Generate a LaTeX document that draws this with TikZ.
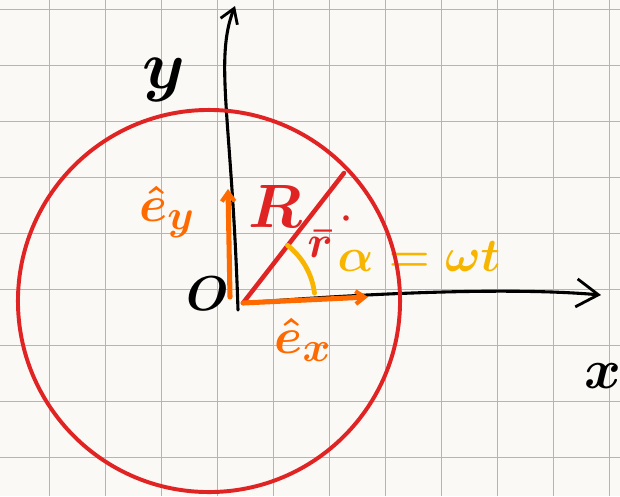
\documentclass[tikz,border=0pt]{standalone}
\usepackage{graphicx}
\usetikzlibrary{arrows.meta}

\definecolor{paper}{HTML}{FBF9F5}
\definecolor{gridgray}{HTML}{B5B5B5}
\definecolor{penred}{HTML}{E02424}
\definecolor{penorange}{HTML}{FF6A00}
\definecolor{penyellow}{HTML}{F7B500}

% handwritten-size math label
\newcommand{\penmath}[2]{\scalebox{#1}{$#2$}}

\tikzset{
    gridline/.style={draw=gridgray, line width=0.7pt},
    axis/.style={draw=black, line width=2.2pt, line cap=round},
    pen/.style={inner sep=0pt, font=\Huge\boldmath},
    unitvec/.style={draw=penorange, line width=3.6pt, line cap=round,
        -{Straight Barb[length=0.22cm, width=0.32cm, line width=3pt]}}
}

\begin{document}
\begin{tikzpicture}[x=0.025cm, y=-0.025cm]
        % Paper and grid
        \fill[paper] (0,0) rectangle (620,496);
        \useasboundingbox (0,0) rectangle (620,496);
        \foreach \x in {49.3,105.3,...,609.3} {
                \draw[gridline] (\x,0) -- (\x,496);
            }
        \foreach \y in {9.3,65.3,...,457.3} {
                \draw[gridline] (0,\y) -- (620,\y);
            }

        % Axes
        \coordinate (O) at (243,303);
        \coordinate (yfoot) at (238,310);
        \coordinate (ytip) at (235,6);
        \coordinate (xtip) at (601,295);
        \draw[axis, -{Straight Barb[length=0.55cm, width=0.7cm, line width=2pt]}]
            (O) .. controls (400,291) and (520,288) .. (xtip);
        \draw[axis, -{Straight Barb[length=0.35cm, width=0.45cm, line width=2pt]}]
            (yfoot) .. controls (232,120) and (214,60) .. (ytip);
        \node[pen] (ylab) at (164,80) {\penmath{1.95}{y}};
        \node[pen] (xlab) at (603,376) {\penmath{1.6}{x}};
        \node[pen] (olab) at (208,294) {\penmath{1.4}{O}};

        % Position vector
        \coordinate (P) at (344,173);
        \draw[penred, line width=3.2pt, line cap=round] (O) -- (P);
        \node[pen, text=penred] (rlab) at (275,206) {\penmath{1.75}{R}};
        \node[pen, text=penred] (rvec) at (320,244) {\penmath{1.3}{\bar{r}}};
        \fill[penred] (346,218) circle[radius=0.07cm];

        % Unit vectors
        \coordinate (exfoot) at (243,303);
        \coordinate (exhead) at (368,297);
        \coordinate (eyfoot) at (230,297);
        \coordinate (eyhead) at (228,189);
        \draw[unitvec] (exfoot) -- (exhead);
        \draw[unitvec] (eyfoot) -- (eyhead);
        \node[pen, text=penorange] (exlab) at (303,340) {\penmath{1.45}{\hat{e}_x}};
        \node[pen, text=penorange] (eylab) at (167,212) {\penmath{1.45}{\hat{e}_y}};

        % Angle
        \coordinate (arcA) at (314.5,293.2);
        \draw[penyellow, line width=3.4pt, line cap=round]
            (arcA) arc[start angle=7, end angle=52, radius=1.8cm];
        \node[pen, text=penyellow] (anglab) at (419,256) {\penmath{1.35}{\alpha=\omega t}};

        % Circle of radius R
        \draw[penred, line width=2.8pt] (209,301) circle[radius=4.775cm];
    \end{tikzpicture}
\end{document}
